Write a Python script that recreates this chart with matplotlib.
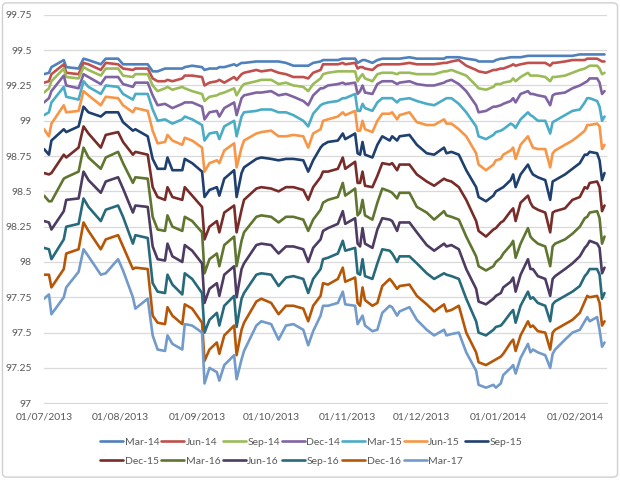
"""Interest rate futures strip, Mar-14 .. Mar-17 contracts, Jul 2013 - Feb 2014."""
import matplotlib
matplotlib.use("Agg")
import matplotlib.pyplot as plt
import matplotlib.dates as mdates
from matplotlib.patches import FancyBboxPatch
from matplotlib.ticker import FuncFormatter, MultipleLocator
import pandas as pd

DATES = [
    "2013-07-01", "2013-07-03", "2013-07-04", "2013-07-09", "2013-07-10", "2013-07-15", "2013-07-17",
    "2013-07-19", "2013-07-24", "2013-07-26", "2013-07-31", "2013-08-02", "2013-08-06", "2013-08-07",
    "2013-08-12", "2013-08-14", "2013-08-16", "2013-08-19", "2013-08-20", "2013-08-22", "2013-08-26",
    "2013-08-27", "2013-08-30", "2013-09-03", "2013-09-04", "2013-09-06", "2013-09-09", "2013-09-10",
    "2013-09-12", "2013-09-16", "2013-09-17", "2013-09-19", "2013-09-20", "2013-09-25", "2013-09-27",
    "2013-10-01", "2013-10-04", "2013-10-07", "2013-10-10", "2013-10-14", "2013-10-16", "2013-10-18",
    "2013-10-21",
    "2013-10-22", "2013-10-24", "2013-10-28", "2013-10-30", "2013-10-31", "2013-11-04", "2013-11-05",
    "2013-11-06", "2013-11-07", "2013-11-08", "2013-11-11", "2013-11-13", "2013-11-15", "2013-11-18",
    "2013-11-19", "2013-11-21", "2013-11-22", "2013-11-26", "2013-11-29", "2013-12-03", "2013-12-06",
    "2013-12-10", "2013-12-11", "2013-12-13", "2013-12-16",
    "2013-12-19", "2013-12-23", "2013-12-24", "2013-12-27", "2013-12-30", "2013-12-31", "2014-01-02",
    "2014-01-03", "2014-01-06", "2014-01-07", "2014-01-08", "2014-01-10", "2014-01-13", "2014-01-14",
    "2014-01-15", "2014-01-17", "2014-01-20", "2014-01-22", "2014-01-23", "2014-01-24", "2014-01-28",
    "2014-01-31", "2014-02-03", "2014-02-05", "2014-02-06", "2014-02-07", "2014-02-10", "2014-02-11",
    "2014-02-12", "2014-02-13",
]

MAR14 = [99.33, 99.34, 99.38, 99.43, 99.38, 99.37, 99.44, 99.43, 99.40, 99.44, 99.44, 99.40, 99.40, 99.40,
         99.40, 99.35, 99.35, 99.37, 99.37, 99.37, 99.37,
         99.38, 99.39, 99.38, 99.36, 99.37, 99.37, 99.38, 99.38, 99.40, 99.39, 99.41, 99.41, 99.42, 99.42,
         99.42, 99.42, 99.41, 99.39, 99.39, 99.39, 99.41, 99.42,
         99.43, 99.43, 99.43, 99.44, 99.44, 99.44, 99.41, 99.42, 99.43, 99.43, 99.41, 99.43, 99.44, 99.44,
         99.44, 99.44, 99.44, 99.45, 99.44, 99.44, 99.44, 99.44, 99.45, 99.45, 99.45,
         99.44, 99.43, 99.42, 99.42, 99.42, 99.43, 99.44, 99.44, 99.45, 99.45, 99.45, 99.45, 99.46, 99.46,
         99.46, 99.46, 99.46, 99.46, 99.46, 99.46, 99.46, 99.46, 99.47, 99.47, 99.47, 99.47, 99.47, 99.47,
         99.47, 99.47]
JUN14 = [99.27, 99.28, 99.33, 99.40, 99.34, 99.33, 99.41, 99.40, 99.36, 99.41, 99.40, 99.37, 99.36, 99.37,
         99.37, 99.30, 99.28, 99.28, 99.29, 99.28, 99.30,
         99.32, 99.32, 99.31, 99.25, 99.27, 99.28, 99.29, 99.27, 99.31, 99.29, 99.33, 99.34, 99.36, 99.35,
         99.36, 99.34, 99.33, 99.31, 99.31, 99.30, 99.34, 99.36,
         99.40, 99.40, 99.40, 99.41, 99.40, 99.41, 99.37, 99.38, 99.38, 99.37, 99.36, 99.39, 99.40, 99.40,
         99.40, 99.40, 99.40, 99.41, 99.40, 99.40, 99.40, 99.41, 99.41, 99.42, 99.43,
         99.39, 99.36, 99.35, 99.34, 99.36, 99.36, 99.37, 99.37, 99.39, 99.40, 99.39, 99.40, 99.41, 99.41,
         99.41, 99.41, 99.41, 99.39, 99.41, 99.41, 99.42, 99.43, 99.43, 99.43, 99.44, 99.44, 99.44, 99.43,
         99.42, 99.42]
SEP14 = [99.20, 99.23, 99.28, 99.37, 99.31, 99.30, 99.38, 99.36, 99.32, 99.37, 99.37, 99.32, 99.31, 99.33,
         99.33, 99.25, 99.21, 99.23, 99.24, 99.22, 99.24,
         99.23, 99.21, 99.19, 99.14, 99.17, 99.18, 99.19, 99.20, 99.23, 99.18, 99.24, 99.26, 99.28, 99.29,
         99.29, 99.26, 99.27, 99.25, 99.24, 99.21, 99.26, 99.30,
         99.33, 99.34, 99.35, 99.35, 99.35, 99.35, 99.28, 99.31, 99.33, 99.30, 99.28, 99.33, 99.34, 99.34,
         99.34, 99.33, 99.34, 99.34, 99.33, 99.33, 99.33, 99.35, 99.35, 99.36, 99.34,
         99.32, 99.25, 99.23, 99.22, 99.24, 99.26, 99.26, 99.27, 99.28, 99.30, 99.28, 99.31, 99.34, 99.32,
         99.32, 99.32, 99.31, 99.28, 99.31, 99.31, 99.32, 99.34, 99.36, 99.37, 99.38, 99.39, 99.39, 99.37,
         99.33, 99.34]
DEC14 = [99.13, 99.16, 99.21, 99.32, 99.25, 99.23, 99.33, 99.31, 99.26, 99.31, 99.31, 99.26, 99.24, 99.27,
         99.27, 99.18, 99.11, 99.12, 99.11, 99.09, 99.12,
         99.13, 99.13, 99.10, 99.01, 99.06, 99.07, 99.03, 99.09, 99.13, 99.04, 99.16, 99.18, 99.20, 99.20,
         99.21, 99.18, 99.19, 99.17, 99.14, 99.11, 99.18, 99.23,
         99.23, 99.25, 99.26, 99.27, 99.26, 99.27, 99.19, 99.21, 99.25, 99.20, 99.19, 99.26, 99.28, 99.28,
         99.28, 99.26, 99.27, 99.28, 99.26, 99.25, 99.25, 99.27, 99.28, 99.29, 99.26,
         99.21, 99.11, 99.06, 99.07, 99.10, 99.10, 99.11, 99.12, 99.14, 99.16, 99.13, 99.19, 99.21, 99.19,
         99.19, 99.18, 99.17, 99.11, 99.18, 99.19, 99.20, 99.23, 99.25, 99.27, 99.28, 99.30, 99.30, 99.27,
         99.19, 99.21]
MAR15 = [99.04, 99.06, 99.13, 99.24, 99.17, 99.15, 99.28, 99.24, 99.19, 99.25, 99.24, 99.19, 99.15, 99.19,
         99.19, 99.08, 99.00, 99.01, 99.00, 98.98, 99.01,
         99.03, 99.01, 98.97, 98.86, 98.91, 98.92, 98.87, 98.96, 99.00, 98.89, 99.03, 99.06, 99.07, 99.08,
         99.08, 99.06, 99.06, 99.04, 99.00, 98.96, 99.05, 99.11,
         99.12, 99.13, 99.14, 99.16, 99.16, 99.19, 99.07, 99.07, 99.12, 99.09, 99.07, 99.13, 99.16, 99.16,
         99.16, 99.13, 99.15, 99.16, 99.14, 99.12, 99.11, 99.15, 99.16, 99.16, 99.12,
         99.06, 98.96, 98.89, 98.87, 98.90, 98.92, 98.93, 98.94, 98.98, 98.97, 98.95, 99.01, 99.06, 99.04,
         99.03, 99.00, 99.00, 98.91, 98.99, 99.00, 99.04, 99.07, 99.08, 99.13, 99.16, 99.16, 99.14, 99.10,
         99.00, 99.03]
JUN15 = [98.94, 98.89, 98.98, 99.11, 99.06, 99.07, 99.21, 99.18, 99.11, 99.17, 99.16, 99.11, 99.06, 99.09,
         99.07, 98.93, 98.84, 98.85, 98.90, 98.86, 98.83,
         98.88, 98.86, 98.81, 98.64, 98.70, 98.72, 98.70, 98.79, 98.84, 98.67, 98.81, 98.86, 98.91, 98.92,
         98.93, 98.89, 98.89, 98.90, 98.89, 98.81, 98.91, 98.94,
         99.00, 99.01, 99.03, 99.06, 99.04, 99.07, 98.93, 98.93, 99.00, 98.94, 98.92, 99.00, 99.05, 99.05,
         99.06, 99.01, 99.04, 99.06, 98.99, 98.97, 98.97, 99.01, 98.98, 98.98, 98.94,
         98.89, 98.77, 98.69, 98.65, 98.69, 98.72, 98.73, 98.76, 98.79, 98.81, 98.73, 98.83, 98.89, 98.85,
         98.81, 98.80, 98.80, 98.67, 98.77, 98.79, 98.83, 98.86, 98.90, 98.93, 98.97, 98.97, 98.98, 98.96,
         98.80, 98.83]
SEP15 = [98.80, 98.76, 98.86, 98.94, 98.92, 98.96, 99.10, 99.06, 99.03, 99.06, 99.06, 98.99, 98.93, 98.94,
         98.89, 98.73, 98.66, 98.66, 98.74, 98.65, 98.65,
         98.73, 98.70, 98.64, 98.46, 98.51, 98.53, 98.47, 98.59, 98.65, 98.46, 98.63, 98.67, 98.73, 98.74,
         98.73, 98.72, 98.73, 98.73, 98.72, 98.64, 98.72, 98.81,
         98.83, 98.85, 98.86, 98.91, 98.87, 98.91, 98.77, 98.76, 98.85, 98.76, 98.74, 98.83, 98.89, 98.86,
         98.89, 98.86, 98.89, 98.90, 98.83, 98.77, 98.76, 98.81, 98.77, 98.78, 98.76,
         98.65, 98.53, 98.46, 98.43, 98.47, 98.50, 98.52, 98.53, 98.58, 98.62, 98.53, 98.62, 98.69, 98.65,
         98.62, 98.60, 98.58, 98.44, 98.57, 98.58, 98.62, 98.66, 98.70, 98.76, 98.76, 98.78, 98.77, 98.72,
         98.58, 98.63]
DEC15 = [98.63, 98.62, 98.63, 98.76, 98.74, 98.81, 98.96, 98.91, 98.81, 98.90, 98.92, 98.85, 98.76, 98.78,
         98.76, 98.53, 98.46, 98.44, 98.53, 98.46, 98.44,
         98.53, 98.47, 98.39, 98.16, 98.25, 98.29, 98.21, 98.35, 98.40, 98.21, 98.37, 98.44, 98.52, 98.53,
         98.52, 98.50, 98.53, 98.53, 98.51, 98.44, 98.53, 98.60,
         98.64, 98.64, 98.66, 98.74, 98.66, 98.71, 98.56, 98.56, 98.64, 98.54, 98.53, 98.61, 98.70, 98.69,
         98.70, 98.65, 98.69, 98.69, 98.62, 98.57, 98.54, 98.59, 98.58, 98.57, 98.53,
         98.44, 98.29, 98.22, 98.18, 98.23, 98.24, 98.28, 98.29, 98.36, 98.38, 98.29, 98.42, 98.47, 98.42,
         98.39, 98.37, 98.35, 98.21, 98.35, 98.36, 98.38, 98.44, 98.46, 98.53, 98.52, 98.56, 98.57, 98.53,
         98.36, 98.40]
MAR16 = [98.47, 98.43, 98.43, 98.59, 98.60, 98.64, 98.81, 98.74, 98.66, 98.74, 98.78, 98.70, 98.56, 98.60,
         98.59, 98.32, 98.23, 98.22, 98.33, 98.25, 98.22,
         98.32, 98.29, 98.21, 97.92, 98.02, 98.06, 97.97, 98.12, 98.18, 97.97, 98.15, 98.21, 98.32, 98.33,
         98.32, 98.28, 98.32, 98.32, 98.30, 98.22, 98.30, 98.37,
         98.42, 98.44, 98.46, 98.56, 98.47, 98.52, 98.33, 98.35, 98.44, 98.33, 98.30, 98.42, 98.52, 98.50,
         98.49, 98.45, 98.49, 98.49, 98.39, 98.35, 98.30, 98.36, 98.33, 98.32, 98.30,
         98.18, 98.04, 97.97, 97.94, 97.97, 98.00, 98.03, 98.06, 98.12, 98.15, 98.03, 98.13, 98.24, 98.18,
         98.16, 98.13, 98.11, 97.97, 98.11, 98.13, 98.16, 98.20, 98.25, 98.31, 98.32, 98.35, 98.36, 98.31,
         98.13, 98.18]
JUN16 = [98.29, 98.28, 98.23, 98.36, 98.44, 98.45, 98.64, 98.58, 98.49, 98.57, 98.60, 98.52, 98.35, 98.40,
         98.39, 98.11, 98.02, 98.01, 98.13, 98.04, 98.00,
         98.12, 98.08, 97.99, 97.71, 97.81, 97.85, 97.76, 97.91, 97.97, 97.75, 97.95, 97.99, 98.12, 98.13,
         98.12, 98.06, 98.11, 98.11, 98.09, 98.00, 98.10, 98.16,
         98.22, 98.24, 98.27, 98.36, 98.27, 98.31, 98.13, 98.11, 98.24, 98.13, 98.10, 98.23, 98.31, 98.30,
         98.29, 98.22, 98.28, 98.28, 98.21, 98.12, 98.08, 98.13, 98.11, 98.12, 98.09,
         97.95, 97.81, 97.72, 97.70, 97.74, 97.76, 97.78, 97.82, 97.86, 97.89, 97.79, 97.91, 98.02, 97.95,
         97.95, 97.90, 97.88, 97.76, 97.88, 97.90, 97.95, 97.99, 98.04, 98.10, 98.12, 98.15, 98.13, 98.10,
         97.92, 97.96]
SEP16 = [98.10, 98.09, 98.02, 98.16, 98.25, 98.27, 98.45, 98.39, 98.29, 98.37, 98.40, 98.32, 98.13, 98.19,
         98.17, 97.85, 97.79, 97.78, 97.91, 97.84, 97.77,
         97.92, 97.88, 97.78, 97.50, 97.59, 97.64, 97.55, 97.69, 97.76, 97.54, 97.74, 97.78, 97.91, 97.92,
         97.91, 97.83, 97.89, 97.90, 97.88, 97.78, 97.88, 97.95,
         98.02, 98.03, 98.06, 98.15, 98.08, 98.10, 97.92, 97.91, 98.02, 97.90, 97.88, 97.99, 98.09, 98.08,
         98.06, 98.00, 98.04, 98.04, 97.99, 97.92, 97.88, 97.92, 97.91, 97.90, 97.88,
         97.74, 97.58, 97.50, 97.48, 97.52, 97.54, 97.55, 97.57, 97.64, 97.66, 97.57, 97.69, 97.79, 97.74,
         97.75, 97.71, 97.69, 97.58, 97.70, 97.72, 97.76, 97.79, 97.83, 97.90, 97.92, 97.95, 97.95, 97.91,
         97.74, 97.78]
DEC16 = [97.91, 97.91, 97.82, 97.95, 98.06, 98.09, 98.28, 98.22, 98.09, 98.16, 98.19, 98.11, 97.95, 97.96,
         97.95, 97.62, 97.57, 97.56, 97.68, 97.62, 97.56,
         97.70, 97.67, 97.57, 97.30, 97.38, 97.43, 97.35, 97.48, 97.55, 97.34, 97.52, 97.57, 97.72, 97.74,
         97.71, 97.63, 97.69, 97.69, 97.67, 97.58, 97.69, 97.76,
         97.85, 97.84, 97.88, 97.96, 97.86, 97.89, 97.71, 97.69, 97.82, 97.73, 97.69, 97.71, 97.83, 97.88,
         97.86, 97.81, 97.83, 97.84, 97.76, 97.70, 97.65, 97.70, 97.65, 97.66, 97.69,
         97.50, 97.36, 97.29, 97.27, 97.30, 97.31, 97.33, 97.35, 97.43, 97.45, 97.37, 97.48, 97.58, 97.54,
         97.55, 97.51, 97.50, 97.38, 97.50, 97.52, 97.56, 97.59, 97.64, 97.72, 97.76, 97.75, 97.76, 97.71,
         97.55, 97.58]
MAR17 = [97.74, 97.77, 97.63, 97.75, 97.82, 97.93, 98.09, 98.04, 97.91, 97.92, 98.02, 97.94, 97.75, 97.67,
         97.74, 97.48, 97.38, 97.37, 97.48, 97.42, 97.38,
         97.56, 97.55, 97.50, 97.14, 97.25, 97.22, 97.16, 97.27, 97.34, 97.17, 97.31, 97.37, 97.55, 97.58,
         97.56, 97.45, 97.55, 97.56, 97.52, 97.41, 97.51, 97.62,
         97.69, 97.69, 97.71, 97.79, 97.70, 97.69, 97.56, 97.59, 97.62, 97.55, 97.51, 97.52, 97.64, 97.69,
         97.68, 97.62, 97.65, 97.68, 97.59, 97.52, 97.48, 97.52, 97.48, 97.49, 97.50,
         97.36, 97.23, 97.13, 97.11, 97.13, 97.11, 97.14, 97.20, 97.25, 97.27, 97.21, 97.32, 97.42, 97.36,
         97.38, 97.36, 97.34, 97.25, 97.35, 97.38, 97.45, 97.50, 97.52, 97.58, 97.61, 97.58, 97.61, 97.52,
         97.40, 97.43]

CONTRACTS = ["Mar-14", "Jun-14", "Sep-14", "Dec-14", "Mar-15", "Jun-15", "Sep-15",
             "Dec-15", "Mar-16", "Jun-16", "Sep-16", "Dec-16", "Mar-17"]
SERIES = [MAR14, JUN14, SEP14, DEC14, MAR15, JUN15, SEP15,
          DEC15, MAR16, JUN16, SEP16, DEC16, MAR17]
# office 2010 palette: six accents, then their darker shades, then a lighter blue
COLOURS = ["#4F81BD", "#C0504D", "#9BBB59", "#8064A2", "#4BACC6", "#F79646", "#1F3F6E",
           "#772C2A", "#5F7530", "#4D3B62", "#276A7C", "#B65708", "#729ACA"]

GRID = "#D9D9D9"
TEXT = "#595959"
FS = 7.5


def main():
    plt.rcParams.update({"font.family": ["Lato", "DejaVu Sans"], "font.size": FS})
    x = pd.to_datetime(DATES)

    fig = plt.figure(figsize=(6.2, 4.8), dpi=100)
    ax = fig.add_axes([0.071, 0.160, 0.908, 0.809])

    handles = []
    for name, vals, col in zip(CONTRACTS, SERIES, COLOURS):
        ln, = ax.plot(x, vals, color=col, lw=1.9, label=name,
                      solid_joinstyle="round", solid_capstyle="round")
        handles.append(ln)

    ax.set_ylim(97, 99.75)
    ax.set_xlim(pd.Timestamp("2013-07-01"), pd.Timestamp("2014-02-14"))
    ax.yaxis.set_major_locator(MultipleLocator(0.25))
    ax.yaxis.set_major_formatter(FuncFormatter(lambda v, _: f"{v:g}"))
    ax.xaxis.set_major_locator(mdates.MonthLocator())
    ax.xaxis.set_major_formatter(mdates.DateFormatter("%d/%m/%Y"))

    ax.grid(axis="y", color=GRID, lw=0.9)
    ax.set_axisbelow(True)
    for s in ("top", "right", "left"):
        ax.spines[s].set_visible(False)
    ax.spines["bottom"].set_color(GRID)
    ax.tick_params(length=0, colors=TEXT, labelsize=FS)
    ax.tick_params(axis="x", pad=7)
    ax.tick_params(axis="y", pad=9)

    # legend fills column-first, so interleave to get Excel's two rows
    top, bottom = handles[:7], handles[7:]
    order = []
    for i in range(7):
        order.append(top[i])
        if i < len(bottom):
            order.append(bottom[i])
    fig.legend(order, [h.get_label() for h in order], loc="center",
               bbox_to_anchor=(0.502, 0.059), ncol=7, frameon=False,
               handlelength=2.2, handletextpad=0.15, columnspacing=0.2,
               labelspacing=0.9, fontsize=FS, labelcolor=TEXT, borderpad=0)

    fig.patches.append(FancyBboxPatch((0.004, 0.006), 0.992, 0.988,
                                      boxstyle="round,pad=0,rounding_size=0.008",
                                      transform=fig.transFigure, fill=False,
                                      ec="#D0D0D0", lw=1))
    fig.savefig("out.png", dpi=100, facecolor="white")
    plt.close(fig)


if __name__ == "__main__":
    main()
